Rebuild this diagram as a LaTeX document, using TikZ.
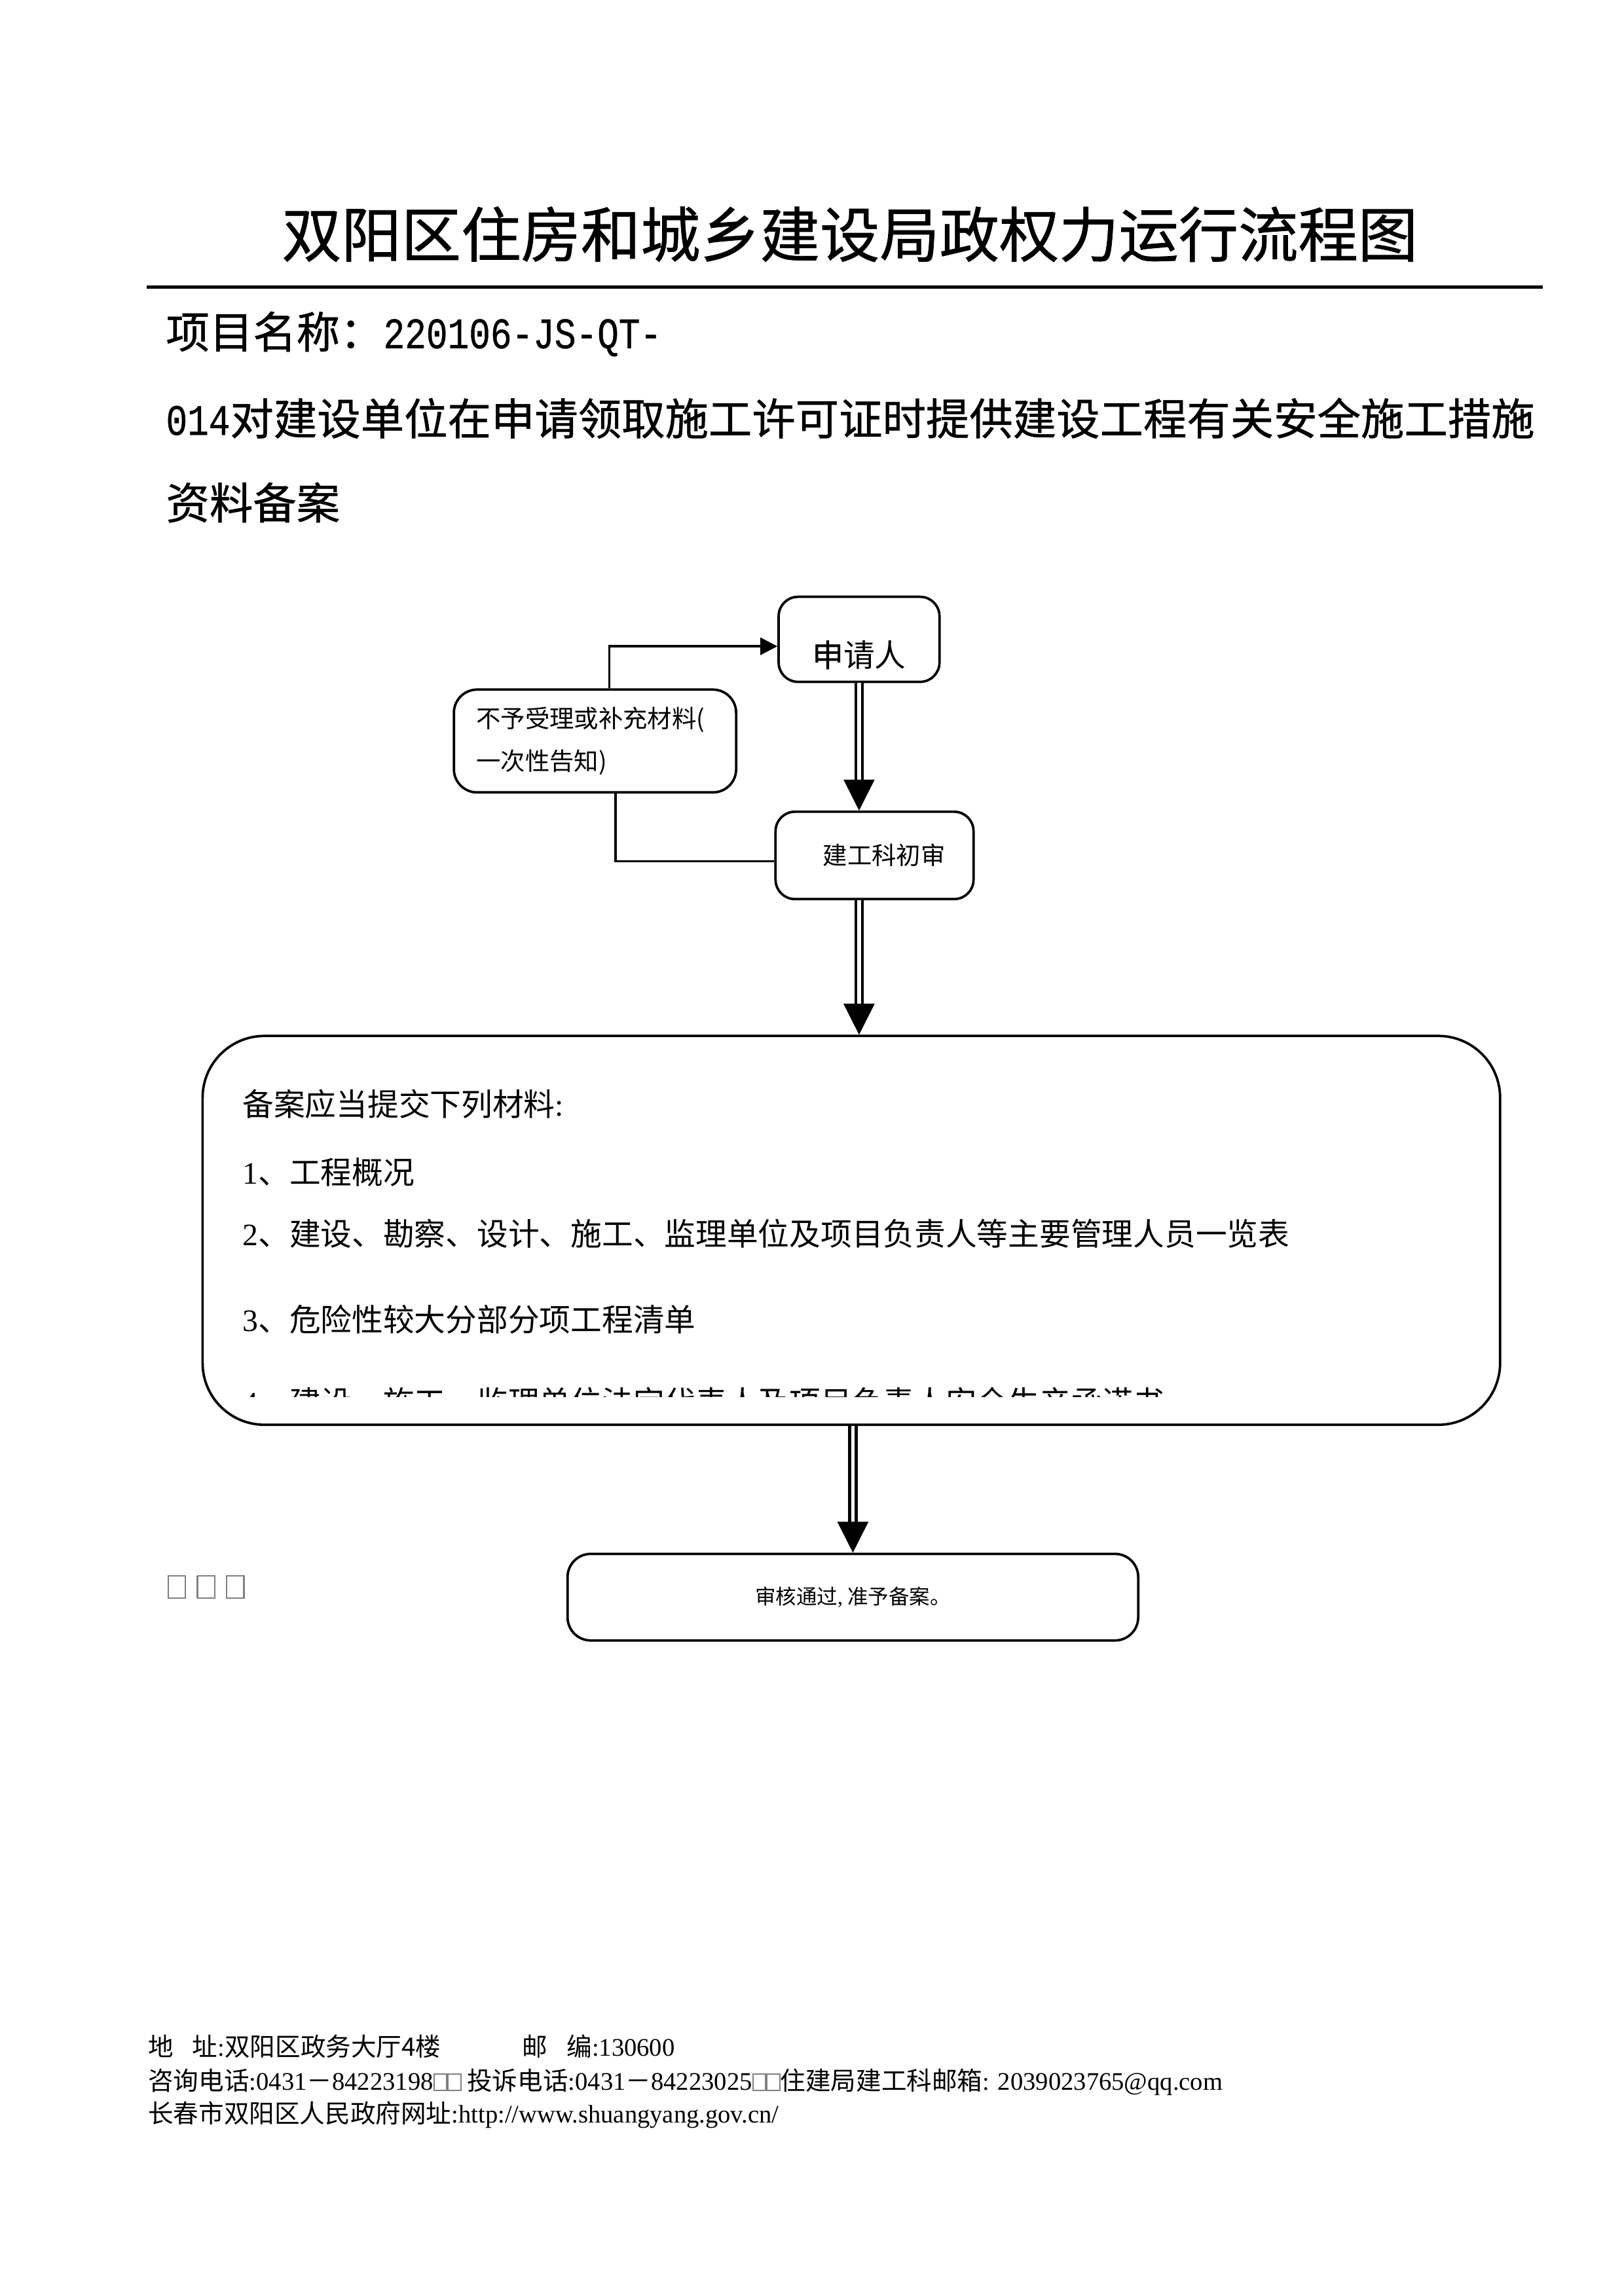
\documentclass[tikz,border=0pt]{standalone}
\usepackage{fontspec}
\setmainfont{Liberation Serif}
\newfontfamily\cjk{Noto Sans CJK SC}
\newfontfamily\cjkb[FakeBold=0.8]{Noto Sans CJK SC}
\newfontfamily\monoz[FakeStretch=0.82,FakeBold=0.6]{Liberation Mono}
\usetikzlibrary{arrows.meta}
\newcommand\tofu{\textcolor{gray}{\fboxsep=0pt\fboxrule=0.5pt\fbox{\hspace{0.45em}\rule{0pt}{0.6em}}}}

\begin{document}
\begin{tikzpicture}[
  box/.style={draw, line width=0.9pt, rounded corners=0.25cm, inner sep=0pt},
  txt/.style={anchor=west, inner sep=0pt},
  shaft/.style={double, double distance=1.4pt, line width=1pt},
  head/.style={-{Triangle[length=4mm,width=4mm]}, line width=0.4pt},
  link/.style={line width=0.9pt}
]
\useasboundingbox (0,0) rectangle (21,-29.7);
% heading
\node (title) at (10.99,-3.03) {\fontsize{22}{26}\selectfont\cjkb 双阳区住房和城乡建设局政权力运行流程图};
\draw[line width=1.2pt] (1.9,-3.71) -- (19.95,-3.71);
\node[txt,font={\fontsize{16}{20}\selectfont\cjkb}] (name1) at (2.14,-4.32) {项目名称：{\monoz 220106-JS-QT-}};
\node[txt,font={\fontsize{16}{20}\selectfont\cjkb}] (name2) at (2.14,-5.41) {{\monoz 014}对建设单位在申请领取施工许可证时提供建设工程有关安全施工措施};
\node[txt,font={\fontsize{16}{20}\selectfont\cjkb}] (name3) at (2.14,-6.50) {资料备案};

% boxes
\node[box,minimum width=2.08cm,minimum height=1.1cm,text height=0.79cm,text depth=0.08cm,
  font={\fontsize{11.5}{14}\selectfont\cjk}] (sq) at (11.11,-8.27) {{\cjkb 申}请人};
\node[box,minimum width=3.65cm,minimum height=1.33cm,rounded corners=0.3cm,align=left,text width=3.07cm,
  font={\fontsize{9}{15.6}\selectfont\cjk}] (rej) at (7.695,-9.585) {不予受理或补充材料(\\一次性告知)};
\node[box,minimum width=2.56cm,minimum height=1.13cm,font={\fontsize{9}{11}\selectfont\cjk}] (csh) at (11.31,-11.065) {\hspace{0.25cm}建工科初审};
\node[box,minimum width=16.78cm,minimum height=5.03cm,rounded corners=0.8cm] (bal) at (11.01,-15.915) {};
\node[box,minimum width=7.38cm,minimum height=1.12cm,rounded corners=0.3cm,font={\fontsize{7.6}{10}\selectfont\cjk}] (tg) at (11.03,-20.66) {审核通过{\rmfamily ,} 准予备案。};

% materials list
\node[txt,font={\fontsize{11.5}{14}\selectfont\cjk}] (m0) at (3.13,-14.28) {备案应当提交下列材料{\rmfamily :}};
\node[txt,font={\fontsize{11.5}{14}\selectfont\cjk}] (m1) at (3.13,-15.16) {{\rmfamily 1}、工程概况};
\node[txt,font={\fontsize{11.5}{14}\selectfont\cjk}] (m2) at (3.13,-15.96) {{\rmfamily 2}、建设、勘察、设计、施工、监理单位及项目负责人等主要管理人员一览表};
\node[txt,font={\fontsize{11.5}{14}\selectfont\cjk}] (m3) at (3.13,-17.07) {{\rmfamily 3}、危险性较大分部分项工程清单};
\begin{scope}
\clip (2.7,-17.6) rectangle (19.3,-18.07);
\node[txt,font={\fontsize{11.5}{14}\selectfont\cjk}] (m4) at (3.13,-18.13) {{\rmfamily 4}、建设、施工、监理单位法定代表人及项目负责人安全生产承诺书};
\end{scope}

% connectors
\coordinate (fbtop) at (7.88,-8.36);
\coordinate (fbbot) at (7.96,-11.14);
\draw[link,-{Triangle[length=2.2mm,width=2.2mm]}] (rej.north -| fbtop) |- (sq.west |- fbtop);
\draw[link] (rej.south -| fbbot) |- (csh.west |- fbbot);

\coordinate (a1) at (sq.south |- csh.north);
\draw[shaft] (sq.south) -- ([yshift=3.8mm]a1);
\draw[head] ([yshift=4mm]a1) -- (a1);
\coordinate (a2) at (sq.south |- bal.north);
\draw[shaft] (csh.south -| sq.south) -- ([yshift=3.8mm]a2);
\draw[head] ([yshift=4mm]a2) -- (a2);
\coordinate (a3) at (tg.north);
\draw[shaft] (bal.south -| tg.north) -- ([yshift=3.8mm]a3);
\draw[head] ([yshift=4mm]a3) -- (a3);

\node[txt,font={\fontsize{13}{15}\selectfont}] (miss) at (2.16,-20.53) {\tofu\hspace{0.3em}\tofu\hspace{0.3em}\tofu};

% footer
\node[txt,font={\fontsize{9.3}{12}\selectfont\cjk}] (addr) at (1.91,-26.47) {地\hspace{0.75em}址{\rmfamily :}双阳区政务大厅4楼};
\node[txt,font={\fontsize{9.3}{12}\selectfont\cjk}] (post) at (6.75,-26.47) {邮\hspace{0.75em}编{\rmfamily :130600}};
\node[txt,font={\fontsize{9.3}{12}\selectfont\cjk}] (tel) at (1.91,-26.93) {咨询电话{\rmfamily :0431}－{\rmfamily 84223198}\tofu\tofu\ 投诉电话{\rmfamily :0431}－{\rmfamily 84223025}\tofu\tofu 住建局建工科邮箱{\rmfamily : 2039023765@qq.com}};
\node[txt,font={\fontsize{9.3}{12}\selectfont\cjk}] (web) at (1.91,-27.36) {长春市双阳区人民政府网址{\rmfamily :http://www.shuangyang.gov.cn/}};
\end{tikzpicture}
\end{document}
